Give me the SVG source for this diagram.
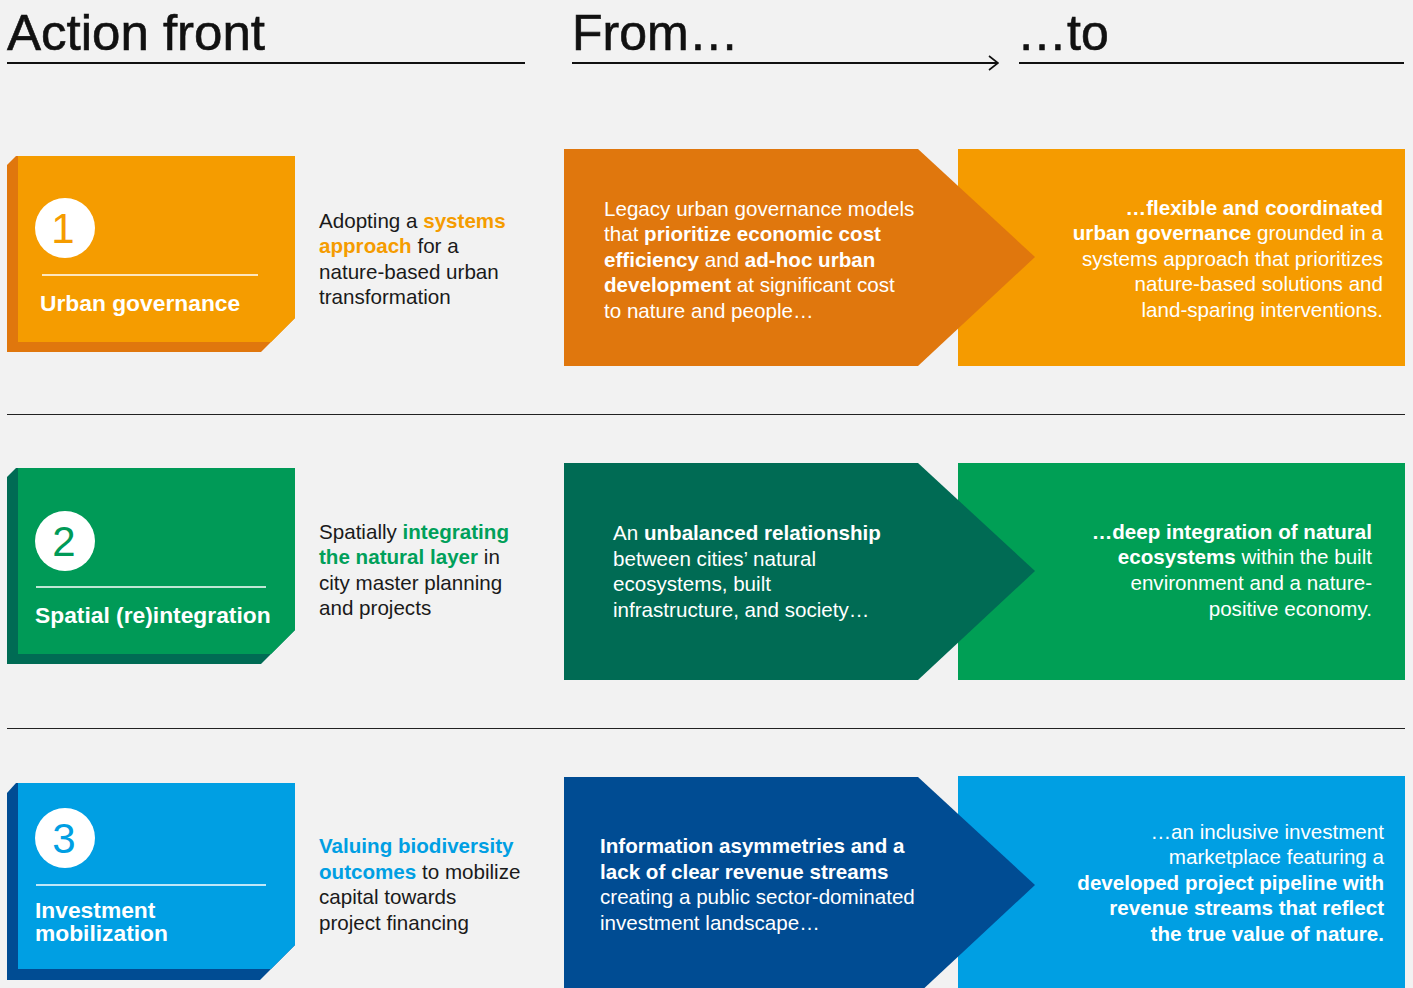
<svg xmlns="http://www.w3.org/2000/svg" width="1413" height="988" viewBox="0 0 1413 988">
<defs>
<style>
.t{font-family:"Liberation Sans",Arial,sans-serif;}
.hd{font-size:50px;fill:#111;stroke:#111;stroke-width:0.6;}
.bd{font-size:20.6px;}
.w{fill:#fff;}
.k{fill:#1a1a1a;}
.b{font-weight:bold;}
.lbl{font-size:22.8px;font-weight:bold;fill:#fff;}
.num{font-size:42px;text-anchor:middle;}
.rt{text-anchor:end;}
.hline{stroke:#111;stroke-width:2;fill:none;}
.sep{stroke:#222;stroke-width:1;}
</style>
<marker id="chev" viewBox="0 0 12 16" refX="11" refY="8" markerWidth="12" markerHeight="16" markerUnits="userSpaceOnUse" orient="auto">
<path d="M2,1 L11,8 L2,15" fill="none" stroke="#111" stroke-width="1.6"/>
</marker>
</defs>
<rect width="1413" height="988" fill="#F2F2F2"/>

<g id="headers">
<text class="t hd" x="7" y="50" textLength="258" lengthAdjust="spacingAndGlyphs">Action front</text>
<text class="t hd" x="572" y="50">From…</text>
<text class="t hd" x="1017" y="50">…to</text>
</g>
<g id="connectors">
<line class="hline" x1="7" y1="63" x2="525" y2="63"/>
<line class="hline" x1="572" y1="63" x2="998" y2="63" marker-end="url(#chev)"/>
<line class="hline" x1="1019" y1="63" x2="1404" y2="63"/>
<line class="sep" x1="7" y1="414.5" x2="1405" y2="414.5"/>
<line class="sep" x1="7" y1="728.5" x2="1405" y2="728.5"/>
</g>

<!-- Row 1 -->
<g id="badge1">
<polygon points="7,165 16,156 295,156 295,318 261,352 7,352" fill="#E0770D"/>
<polygon points="18,156 295,156 295,318 271,342 18,342" fill="#F59C00"/>
<circle cx="65" cy="228" r="30" fill="#fff"/>
<text class="t num" x="63" y="243" fill="#F59C00">1</text>
<line x1="42" y1="275" x2="258" y2="275" stroke="#fff" stroke-width="1.5"/>
<text class="t lbl" x="40" y="311">Urban governance</text>
</g>
<g id="desc1">
<text class="t bd k" x="319" y="228">Adopting a <tspan class="b" fill="#F59C00">systems</tspan></text>
<text class="t bd k" x="319" y="253"><tspan class="b" fill="#F59C00">approach</tspan> for a</text>
<text class="t bd k" x="319" y="279">nature-based urban</text>
<text class="t bd k" x="319" y="304">transformation</text>
</g>
<g id="to1">
<rect x="958" y="149" width="447" height="217" fill="#F59B00"/>
<text class="t bd w rt" x="1383" y="215"><tspan class="b">…flexible and coordinated</tspan></text>
<text class="t bd w rt" x="1383" y="240"><tspan class="b">urban governance</tspan> grounded in a</text>
<text class="t bd w rt" x="1383" y="266">systems approach that prioritizes</text>
<text class="t bd w rt" x="1383" y="291">nature-based solutions and</text>
<text class="t bd w rt" x="1383" y="317">land-sparing interventions.</text>
</g>
<g id="from1">
<polygon points="564,149 918,149 1035,257 918,366 564,366" fill="#E0770D"/>
<text class="t bd w" x="604" y="216">Legacy urban governance models</text>
<text class="t bd w" x="604" y="241">that <tspan class="b">prioritize economic cost</tspan></text>
<text class="t bd w" x="604" y="267"><tspan class="b">efficiency</tspan> and <tspan class="b">ad-hoc urban</tspan></text>
<text class="t bd w" x="604" y="292"><tspan class="b">development</tspan> at significant cost</text>
<text class="t bd w" x="604" y="318">to nature and people…</text>
</g>

<!-- Row 2 -->
<g id="badge2">
<polygon points="7,477 16,468 295,468 295,630 261,664 7,664" fill="#006B54"/>
<polygon points="18,468 295,468 295,630 271,654 18,654" fill="#009A57"/>
<circle cx="65" cy="541" r="30" fill="#fff"/>
<text class="t num" x="64" y="556" fill="#009A57">2</text>
<line x1="36" y1="587" x2="266" y2="587" stroke="#fff" stroke-width="1.5"/>
<text class="t lbl" x="35" y="623">Spatial (re)integration</text>
</g>
<g id="desc2">
<text class="t bd k" x="319" y="539">Spatially <tspan class="b" fill="#00A05A">integrating</tspan></text>
<text class="t bd k" x="319" y="564"><tspan class="b" fill="#00A05A">the natural layer</tspan> in</text>
<text class="t bd k" x="319" y="590">city master planning</text>
<text class="t bd k" x="319" y="615">and projects</text>
</g>
<g id="to2">
<rect x="958" y="463" width="447" height="217" fill="#009F55"/>
<text class="t bd w rt" x="1372" y="539"><tspan class="b">…deep integration of natural</tspan></text>
<text class="t bd w rt" x="1372" y="564"><tspan class="b">ecosystems</tspan> within the built</text>
<text class="t bd w rt" x="1372" y="590">environment and a nature-</text>
<text class="t bd w rt" x="1372" y="616">positive economy.</text>
</g>
<g id="from2">
<polygon points="564,463 918,463 1035,571 918,680 564,680" fill="#006B54"/>
<text class="t bd w" x="613" y="540">An <tspan class="b">unbalanced relationship</tspan></text>
<text class="t bd w" x="613" y="566">between cities’ natural</text>
<text class="t bd w" x="613" y="591">ecosystems, built</text>
<text class="t bd w" x="613" y="617">infrastructure, and society…</text>
</g>

<!-- Row 3 -->
<g id="badge3">
<polygon points="7,793 16,783 295,783 295,945 260,980 7,980" fill="#004C93"/>
<polygon points="18,783 295,783 295,945 271,969 18,969" fill="#009FE3"/>
<circle cx="65" cy="838" r="30" fill="#fff"/>
<text class="t num" x="64" y="853" fill="#009FE3">3</text>
<line x1="36" y1="885" x2="266" y2="885" stroke="#fff" stroke-width="1.5"/>
<text class="t lbl" x="35" y="918">Investment</text>
<text class="t lbl" x="35" y="941">mobilization</text>
</g>
<g id="desc3">
<text class="t bd k" x="319" y="853"><tspan class="b" fill="#009FE3">Valuing biodiversity</tspan></text>
<text class="t bd k" x="319" y="879"><tspan class="b" fill="#009FE3">outcomes</tspan> to mobilize</text>
<text class="t bd k" x="319" y="904">capital towards</text>
<text class="t bd k" x="319" y="930">project financing</text>
</g>
<g id="to3">
<rect x="958" y="776" width="447" height="212" fill="#009FE3"/>
<text class="t bd w rt" x="1384" y="839">…an inclusive investment</text>
<text class="t bd w rt" x="1384" y="864">marketplace featuring a</text>
<text class="t bd w rt" x="1384" y="890"><tspan class="b">developed project pipeline with</tspan></text>
<text class="t bd w rt" x="1384" y="915"><tspan class="b">revenue streams that reflect</tspan></text>
<text class="t bd w rt" x="1384" y="941"><tspan class="b">the true value of nature.</tspan></text>
</g>
<g id="from3">
<polygon points="564,777 918,777 1035,885 918,994 564,994" fill="#004C93"/>
<text class="t bd w b" x="600" y="853">Information asymmetries and a</text>
<text class="t bd w b" x="600" y="879">lack of clear revenue streams</text>
<text class="t bd w" x="600" y="904">creating a public sector-dominated</text>
<text class="t bd w" x="600" y="930">investment landscape…</text>
</g>
</svg>
